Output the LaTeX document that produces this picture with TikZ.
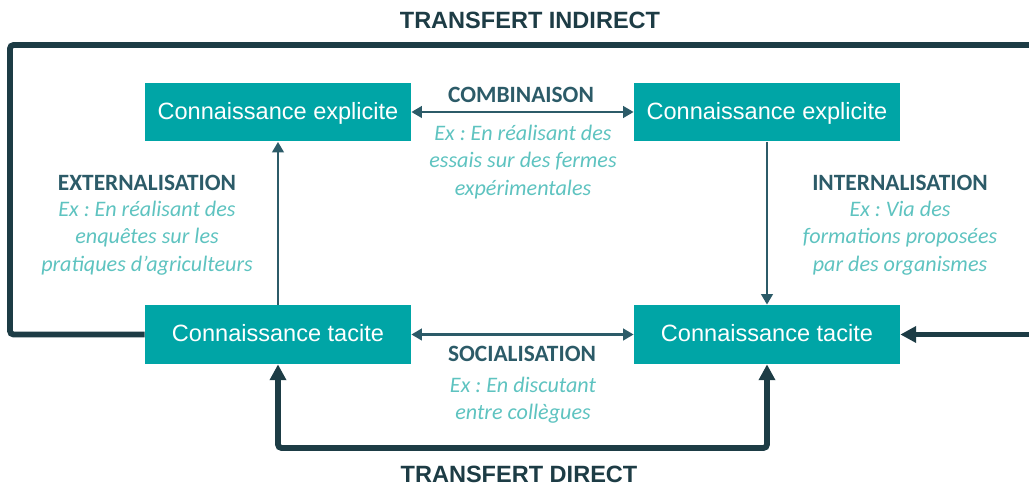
\documentclass[tikz,border=0pt]{standalone}
\usepackage{fontspec}
\setmainfont{Liberation Sans}
\newfontfamily\calib{Carlito}
\usetikzlibrary{arrows.meta}
\definecolor{boitecol}{HTML}{00A5A6}
\definecolor{foncecol}{HTML}{1D3C45}
\definecolor{moyencol}{HTML}{2C5B68}
\definecolor{clairecol}{HTML}{5EC3C0}
\frenchspacing

\begin{document}
\begin{tikzpicture}[x=0.02cm, y=-0.02cm,
    boite/.style={rectangle, fill=boitecol, text=white, minimum width=5.32cm, minimum height=1.18cm, inner sep=0pt, text depth=0.3ex, font=\fontsize{13.4}{16}\selectfont},
    titre/.style={text=moyencol, font=\calib\bfseries\fontsize{13.3}{16}\selectfont},
    exemple/.style={text=clairecol, align=center, font=\calib\itshape\fontsize{12.6}{15.6}\selectfont},
    transfert/.style={text=foncecol, font=\bfseries\fontsize{13.4}{16}\selectfont},
    fin/.style={draw=moyencol, line width=1.6pt, {Triangle[length=6pt, width=6.5pt]}-{Triangle[length=6pt, width=6.5pt]}},
    epais/.style={draw=foncecol, line width=3.3pt, rounded corners=2pt}]
  \useasboundingbox (0,0) rectangle (1029,489);

  % les quatre boites
  \node[boite] (hg) at (278,112) {Connaissance explicite};
  \node[boite] (hd) at (767,112) {Connaissance explicite};
  \node[boite] (bg) at (278,334.5) {Connaissance tacite};
  \node[boite] (bd) at (767,334.5) {Connaissance tacite};

  % conversions
  \draw[fin] (hg) -- (hd);
  \draw[fin] (bg) -- (bd);
  \draw[fin, -{Triangle[length=6pt, width=6.5pt]}] (bg) -- (hg);
  \draw[fin, -{Triangle[length=6pt, width=6.5pt]}] (hd) -- (bd);

  \node[titre] (comb) at (521,95) {COMBINAISON};
  \node[exemple] (combex) at (523,162) {Ex : En réalisant des\\essais sur des fermes\\expérimentales};
  \node[titre] (soc) at (522,354) {SOCIALISATION};
  \node[exemple] (socex) at (523,400.5) {Ex : En discutant\\entre collègues};
  \node[titre] (ext) at (147,183) {EXTERNALISATION};
  \node[exemple] (extex) at (147,238) {Ex : En réalisant des\\enquêtes sur les\\pratiques d’agriculteurs};
  \node[titre] (int) at (900,183) {INTERNALISATION};
  \node[exemple] (intex) at (900,238) {Ex : Via des\\formations proposées\\par des organismes};

  % transferts
  \coordinate (sortie) at (1035,45);
  \coordinate (entree) at (1035,334.5);
  \draw[epais] (bg.west) -- (10,334.5) -- (10,45) -- (sortie);
  \draw[epais, -{Triangle[length=9pt, width=9pt]}] (entree) -- (bd.east);
  \draw[epais, {Triangle[length=9pt, width=9pt]}-{Triangle[length=9pt, width=9pt]}] (bg.south) -- (278,448) -- (767,448) -- (bd.south);

  \node[transfert] (indirect) at (530,20) {TRANSFERT INDIRECT};
  \node[transfert] (direct) at (519,474) {TRANSFERT DIRECT};
\end{tikzpicture}
\end{document}
